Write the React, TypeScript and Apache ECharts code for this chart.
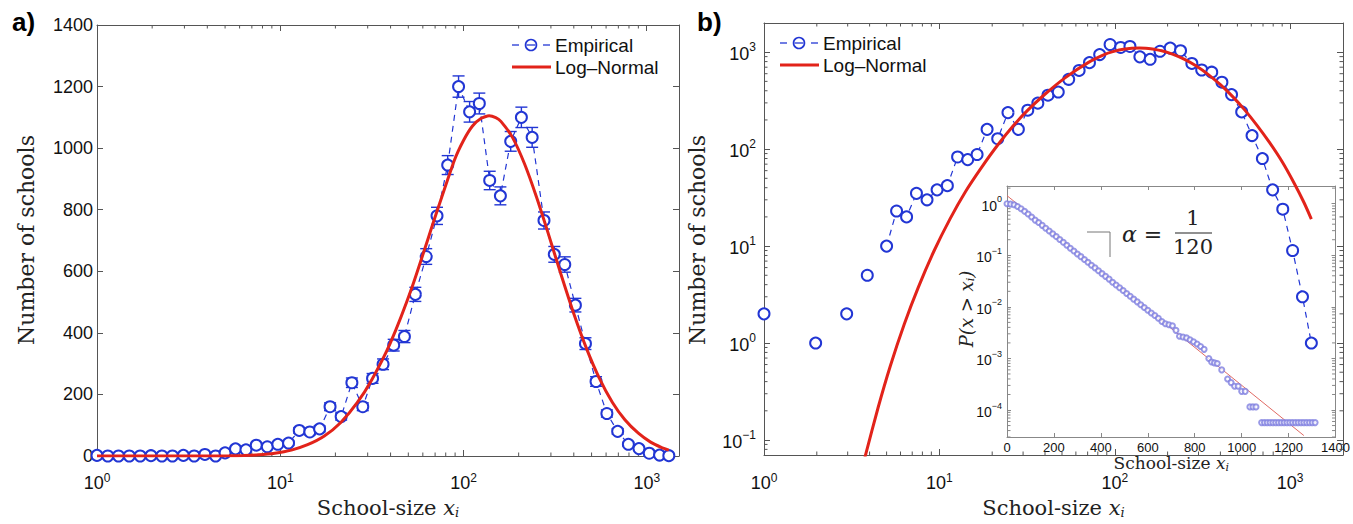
import React, { useEffect, useRef } from "react";
import * as echarts from "echarts";

// ---------- data ----------
// log-spaced school-size bins (shared by panels a and b)
const binSize = [1.0, 1.145, 1.31, 1.5, 1.72, 1.97, 2.26, 2.58, 2.96, 3.39, 3.88, 4.44,
  5.0, 5.7, 6.5, 7.4, 8.5, 9.7,
  11.1, 12.7, 14.5, 16.4, 18.7, 21.5, 24.6, 28.2, 31.9, 36.4,
  41.6, 47.6, 54.6, 62.6, 71.7, 82, 94, 108, 122, 139,
  159, 181, 207, 237, 275, 313, 357, 408, 463, 529,
  606, 694, 794, 907, 1032, 1175, 1320];
const schoolCounts = [2, 0, 0, 0, 0, 1, 0, 0, 2, 0, 5, 0,
  10, 23, 20, 35, 30, 38,
  42, 83, 78, 88, 160, 128, 238, 160, 252, 298,
  360, 388, 525, 648, 780, 945, 1200, 1118, 1145, 895,
  845, 1022, 1100, 1035, 765, 655, 622, 490, 365, 242,
  138, 80, 38, 24, 9, 3, 1];
const countErr = [1.4, 0, 0, 0, 0, 1, 0, 0, 1.4, 0, 2.2, 0,
  3.2, 4.8, 4.5, 5.9, 5.5, 6.2,
  6.5, 9.1, 8.8, 9.4, 12.6, 11.3, 15.4, 12.6, 15.9, 17.3,
  19, 19.7, 22.9, 25.5, 27.9, 30.7, 34.6, 33.4, 33.8, 29.9,
  29.1, 32, 33.2, 32.2, 27.7, 25.6, 24.9, 22.1, 19.1, 15.6,
  11.7, 8.9, 6.2, 4.9, 3, 1.7, 1];

// Log-Normal fit curve
const fitSize = [1, 2, 3, 3.4, 3.8, 4.47, 5.25, 6.31, 7.59, 9.33, 11.5, 14.1, 17.4, 21.4, 26.3, 31.6, 39.8, 52.5,
  70.8, 89.1, 100, 112, 125, 138, 150, 160, 185, 215, 250, 290, 340, 400, 470, 550, 650, 760, 900, 1050, 1200, 1320];
const fitCount = [0.0000001, 0.0001, 0.011, 0.03, 0.071, 0.215, 0.58, 1.57, 3.77, 8.95, 19.1, 36.6, 64.9, 109, 173, 248, 366, 550,
  785, 960, 1025, 1072, 1097, 1105, 1099, 1087, 1035, 950, 842, 723, 591, 462, 348, 254, 174, 118, 74, 45, 28, 19];

// inset: complementary cumulative distribution P(x > x_i)
const insetSize = [0, 15, 30, 45, 60, 75, 90, 105, 120, 135, 150, 165, 180, 195, 210, 225, 240, 255, 270, 285,
  300, 315, 330, 345, 360, 375, 390, 405, 420, 435, 450, 465, 480, 495, 510, 525, 540, 555, 570, 585,
  600, 615, 630, 645, 660, 675, 690, 705, 720, 735, 750, 765, 780, 795, 810, 825, 840,
  860, 872, 884, 896, 915, 940, 955, 970, 985, 1000, 1015, 1035, 1048, 1061,
  1085, 1097, 1109, 1121, 1133, 1145, 1157, 1169, 1181, 1193, 1205, 1217, 1229, 1241, 1253, 1265, 1277, 1289, 1301, 1313];
const insetProb = [1.0, 0.98, 0.95, 0.88, 0.80, 0.71, 0.63, 0.55, 0.48, 0.43,
  0.38, 0.335, 0.295, 0.26, 0.23, 0.202, 0.178, 0.156, 0.137, 0.121,
  0.106, 0.094, 0.083, 0.073, 0.064, 0.057, 0.050, 0.044, 0.039, 0.0345,
  0.030, 0.0265, 0.0235, 0.0207, 0.0182, 0.0160, 0.0141, 0.0125, 0.0110, 0.0097,
  0.0086, 0.0076, 0.0068, 0.0060, 0.0052, 0.0047, 0.0045, 0.0043, 0.0035, 0.0027,
  0.0026, 0.0025, 0.0023, 0.0021, 0.0019, 0.0017, 0.0015,
  0.001, 0.00085, 0.00082, 0.0008, 0.0006, 0.0004, 0.00034, 0.00029, 0.00029, 0.00023, 0.00023, 0.000115, 0.000115, 0.000115,
  0.000057, 0.000057, 0.000057, 0.000057, 0.000057, 0.000057, 0.000057, 0.000057, 0.000057, 0.000057,
  0.000057, 0.000057, 0.000057, 0.000057, 0.000057, 0.000057, 0.000057, 0.000057, 0.000057, 0.000057];
const insetFitSize = [0, 1265];
const insetFitProb = [1.43, 0.000032];

// axis ticks
const countTicks = [0, 200, 400, 600, 800, 1000, 1200, 1400];
const insetTicks = [0, 200, 400, 600, 800, 1000, 1200, 1400];
const legendNames = ["Empirical", "Log\u2013Normal"];

// ---------- styling ----------
const BLUE = "#2236d4";
const RED = "#e2231a";
const AXIS = "#555";
const INSET_AXIS = "#888";
const SANS = '"Liberation Sans", Arial, sans-serif';
const SERIF = '"DejaVu Serif", serif';

const powRich = (b: number, e: number, lh: number) => ({
  b: { fontFamily: SANS, fontSize: b, color: "#111", lineHeight: lh, verticalAlign: "bottom" },
  e: { fontFamily: SANS, fontSize: e, color: "#111", lineHeight: e, verticalAlign: "top" },
});
const powFormatter = (v: number) => {
  const l = Math.log10(v);
  const e = Math.round(l);
  if (Math.abs(l - e) > 1e-6) return "";
  return `{b|10}{e|${e < 0 ? "\u2212" + -e : e}}`;
};
const plain = (v: number) => String(v);

const nameRich = (fs: number) => {
  const lh = Math.round(fs * 1.1);
  const ss = Math.round(fs * 0.62);
  return {
    t: { fontFamily: SERIF, fontSize: fs, color: "#222", lineHeight: lh, verticalAlign: "middle" },
    x: { fontFamily: SERIF, fontStyle: "italic", fontSize: fs, color: "#222", lineHeight: lh, verticalAlign: "middle" },
    s: { fontFamily: SERIF, fontStyle: "italic", fontSize: ss, color: "#222", lineHeight: ss, verticalAlign: "bottom" },
  };
};

function minorValues(lo: number, hi: number, min: number, max: number) {
  const out: number[] = [];
  for (let e = lo; e <= hi; e++) for (let m = 2; m <= 9; m++) {
    const v = m * Math.pow(10, e);
    if (v > min && v < max) out.push(v);
  }
  return out;
}

function minorSeries(xi: number, yi: number, vals: number[], dir: "x" | "y", ref: number, color: string) {
  return {
    type: "custom",
    xAxisIndex: xi,
    yAxisIndex: yi,
    silent: true,
    clip: false,
    z: 1,
    data: vals.map((v) => (dir === "x" ? [v, ref] : [ref, v])),
    renderItem: (params: any, api: any) => {
      const cs = params.coordSys;
      const p = api.coord([api.value(0), api.value(1)]);
      const L = 3.5;
      const st = { stroke: color, lineWidth: 1 };
      if (dir === "x") {
        const x = p[0];
        return {
          type: "group",
          children: [
            { type: "line", shape: { x1: x, y1: cs.y + cs.height, x2: x, y2: cs.y + cs.height - L }, style: st },
            { type: "line", shape: { x1: x, y1: cs.y, x2: x, y2: cs.y + L }, style: st },
          ],
        };
      }
      const y = p[1];
      return {
        type: "group",
        children: [
          { type: "line", shape: { x1: cs.x, y1: y, x2: cs.x + L, y2: y }, style: st },
          { type: "line", shape: { x1: cs.x + cs.width, y1: y, x2: cs.x + cs.width - L, y2: y }, style: st },
        ],
      };
    },
  };
}

function legendGraphic(x0: number, y0: number) {
  const dash = { stroke: BLUE, lineWidth: 1.3 };
  return [
    { type: "line", shape: { x1: x0, y1: y0, x2: x0 + 7, y2: y0 }, style: dash },
    { type: "circle", shape: { cx: x0 + 19, cy: y0, r: 5.5 }, style: { stroke: BLUE, lineWidth: 1.6, fill: "#fff" } },
    { type: "line", shape: { x1: x0 + 14.5, y1: y0, x2: x0 + 23.5, y2: y0 }, style: dash },
    { type: "line", shape: { x1: x0 + 31, y1: y0, x2: x0 + 38, y2: y0 }, style: dash },
    { type: "text", x: x0 + 43, y: y0, style: { text: legendNames[0], font: `19px ${SANS}`, fill: "#111", verticalAlign: "middle" } },
    { type: "line", shape: { x1: x0, y1: y0 + 22, x2: x0 + 39, y2: y0 + 22 }, style: { stroke: RED, lineWidth: 3 } },
    { type: "text", x: x0 + 43, y: y0 + 22, style: { text: legendNames[1], font: `19px ${SANS}`, fill: "#111", verticalAlign: "middle" } },
  ];
}

export default function App() {
  const ref = useRef<HTMLDivElement>(null);
  useEffect(() => {
    if (!ref.current) return;
    const chart = echarts.init(ref.current, undefined, { renderer: "svg" });

    const aEmp = binSize.map((x, i) => [x, schoolCounts[i]]);
    const aErr = binSize.map((x, i) => [x, schoolCounts[i], countErr[i]]);
    const bEmp = binSize.map((x, i) => [x, schoolCounts[i] > 0 ? schoolCounts[i] : "-"]);
    const fit = fitSize.map((x, i) => [x, fitCount[i]]);
    const inset = insetSize.map((x, i) => [x, insetProb[i]]);
    const insetFit = insetFitSize.map((x, i) => [x, insetFitProb[i]]);

    const tick = { show: true, inside: true, length: 6, lineStyle: { color: AXIS, width: 1 } };
    const line = { show: true, onZero: false, lineStyle: { color: AXIS, width: 1 } };
    const iTick = { show: true, inside: true, length: 4, lineStyle: { color: INSET_AXIS } };
    const iLine = { show: true, onZero: false, lineStyle: { color: INSET_AXIS } };
    const noLabel = { show: false };
    const xName = "{t|School-size }{x|x}{s|i}";

    const option: any = {
      animation: false,
      backgroundColor: "#fff",
      grid: [
        { left: 97, top: 25, width: 582, height: 447 },
        { left: 764, top: 23, width: 579, height: 448 },
        { left: 1007, top: 186, width: 330, height: 251, show: true, backgroundColor: "#fff", borderWidth: 0 },
      ],
      xAxis: [
        // panel a
        {
          gridIndex: 0, type: "log", logBase: 10, min: 1, max: 1500, position: "bottom",
          axisLine: line, axisTick: tick, splitLine: { show: false },
          axisLabel: { formatter: powFormatter, rich: powRich(18, 12, 20), margin: 16 },
          name: xName, nameLocation: "middle", nameGap: 40, nameTextStyle: { rich: nameRich(21) },
        },
        { gridIndex: 0, type: "log", logBase: 10, min: 1, max: 1500, position: "top", axisLine: line, axisTick: tick, axisLabel: noLabel, splitLine: { show: false } },
        // panel b
        {
          gridIndex: 1, type: "log", logBase: 10, min: 1, max: 2000, position: "bottom",
          axisLine: line, axisTick: tick, splitLine: { show: false },
          axisLabel: { formatter: powFormatter, rich: powRich(18, 12, 20), margin: 17 },
          name: xName, nameLocation: "middle", nameGap: 41, nameTextStyle: { rich: nameRich(21) },
        },
        { gridIndex: 1, type: "log", logBase: 10, min: 1, max: 2000, position: "top", axisLine: line, axisTick: tick, axisLabel: noLabel, splitLine: { show: false } },
        // inset
        {
          gridIndex: 2, type: "value", min: insetTicks[0], max: insetTicks[insetTicks.length - 1], interval: 200, position: "bottom",
          axisLine: iLine, axisTick: iTick, splitLine: { show: false },
          axisLabel: { fontFamily: SANS, fontSize: 13, color: "#111", margin: 4, formatter: plain },
          name: xName, nameLocation: "middle", nameGap: 10, nameTextStyle: { rich: nameRich(17) },
        },
        {
          gridIndex: 2, type: "value", min: insetTicks[0], max: insetTicks[insetTicks.length - 1], interval: 200, position: "top",
          axisLine: iLine, axisTick: iTick, axisLabel: noLabel, splitLine: { show: false },
        },
      ],
      yAxis: [
        {
          gridIndex: 0, type: "value", min: countTicks[0], max: countTicks[countTicks.length - 1], interval: 200, position: "left",
          axisLine: line, axisTick: tick, splitLine: { show: false },
          axisLabel: { fontFamily: SANS, fontSize: 18, color: "#111", margin: 4, formatter: plain },
        },
        { gridIndex: 0, type: "value", min: countTicks[0], max: countTicks[countTicks.length - 1], interval: 200, position: "right", axisLine: line, axisTick: tick, axisLabel: noLabel, splitLine: { show: false } },
        {
          gridIndex: 1, type: "log", logBase: 10, min: 0.07, max: 2000, position: "left",
          axisLine: line, axisTick: tick, splitLine: { show: false },
          axisLabel: { formatter: powFormatter, rich: powRich(18, 12, 22), margin: 8 },
        },
        { gridIndex: 1, type: "log", logBase: 10, min: 0.07, max: 2000, position: "right", axisLine: line, axisTick: tick, axisLabel: noLabel, splitLine: { show: false } },
        {
          gridIndex: 2, type: "log", logBase: 10, min: 0.00003, max: 2.2, position: "left",
          axisLine: iLine, axisTick: iTick, splitLine: { show: false },
          axisLabel: { formatter: powFormatter, rich: powRich(14, 9, 18), margin: 5 },
        },
        {
          gridIndex: 2, type: "log", logBase: 10, min: 0.00003, max: 2.2, position: "right",
          axisLine: iLine, axisTick: iTick, axisLabel: noLabel, splitLine: { show: false },
        },
      ],
      series: [
        minorSeries(0, 0, minorValues(0, 3, 1, 1500), "x", 100, AXIS),
        minorSeries(2, 2, minorValues(0, 3, 1, 2000), "x", 1, AXIS),
        minorSeries(2, 2, minorValues(-2, 3, 0.07, 2000), "y", 10, AXIS),
        minorSeries(4, 4, minorValues(-5, 0, 0.00003, 2.2), "y", 500, INSET_AXIS),
        // inset
        {
          type: "line", name: "fit-ccdf", xAxisIndex: 4, yAxisIndex: 4, data: insetFit, symbol: "none",
          lineStyle: { color: "#e06a64", width: 1 }, z: 3,
        },
        {
          type: "scatter", name: "ccdf", xAxisIndex: 4, yAxisIndex: 4, data: inset, symbol: "emptyCircle", symbolSize: 5,
          itemStyle: { color: "#7f7fe0", borderColor: "#7f7fe0", borderWidth: 0.9 }, z: 4,
        },
        // panel a
        {
          type: "custom", name: "err", xAxisIndex: 0, yAxisIndex: 0, data: aErr, z: 5,
          renderItem: (params: any, api: any) => {
            const x = api.value(0), y = api.value(1), e = api.value(2);
            if (!(e > 0)) return null;
            const t = api.coord([x, y + e]);
            const b = api.coord([x, y - e]);
            const w = 6;
            const st = { stroke: BLUE, lineWidth: 1.4, fill: "none" };
            return {
              type: "group",
              children: [
                { type: "line", shape: { x1: t[0], y1: t[1], x2: b[0], y2: b[1] }, style: st },
                { type: "line", shape: { x1: t[0] - w, y1: t[1], x2: t[0] + w, y2: t[1] }, style: st },
                { type: "line", shape: { x1: b[0] - w, y1: b[1], x2: b[0] + w, y2: b[1] }, style: st },
              ],
            };
          },
        },
        {
          type: "line", name: legendNames[0], xAxisIndex: 0, yAxisIndex: 0, data: aEmp,
          symbol: "emptyCircle", symbolSize: 11,
          itemStyle: { color: BLUE, borderColor: BLUE, borderWidth: 1.6 },
          lineStyle: { color: BLUE, width: 1.2, type: [6, 5] }, z: 6,
        },
        {
          type: "line", name: legendNames[1], xAxisIndex: 0, yAxisIndex: 0, data: fit, symbol: "none", smooth: 0.2,
          lineStyle: { color: RED, width: 3 }, itemStyle: { color: RED }, z: 7,
        },
        // panel b
        {
          type: "line", name: legendNames[0] + " (log)", xAxisIndex: 2, yAxisIndex: 2, data: bEmp,
          symbol: "emptyCircle", symbolSize: 11, connectNulls: false,
          itemStyle: { color: BLUE, borderColor: BLUE, borderWidth: 1.6 },
          lineStyle: { color: BLUE, width: 1.2, type: [6, 5] }, z: 6,
        },
        {
          type: "line", name: legendNames[1] + " (log)", xAxisIndex: 2, yAxisIndex: 2, data: fit, symbol: "none", smooth: 0.2,
          lineStyle: { color: RED, width: 3 }, itemStyle: { color: RED }, z: 7,
        },
      ],
      graphic: [
        { type: "text", left: 12, top: 9, style: { text: "a)", font: `bold 26px ${SANS}`, fill: "#000" } },
        { type: "text", left: 697, top: 9, style: { text: "b)", font: `bold 26px ${SANS}`, fill: "#000" } },
        {
          type: "text", x: 26, y: 240, rotation: Math.PI / 2,
          style: { text: "Number of schools", font: `22px ${SERIF}`, fill: "#222", align: "center", verticalAlign: "middle" },
        },
        {
          type: "text", x: 697, y: 240, rotation: Math.PI / 2,
          style: { text: "Number of schools", font: `22px ${SERIF}`, fill: "#222", align: "center", verticalAlign: "middle" },
        },
        {
          type: "text", x: 966, y: 309, rotation: Math.PI / 2,
          style: {
            text: "{a|P(}{x|x}{a| > }{x|x}{s|i}{a|)}", align: "center", verticalAlign: "middle",
            rich: {
              a: { fontFamily: SERIF, fontStyle: "italic", fontSize: 18, fill: "#222", lineHeight: 20, verticalAlign: "middle" },
              x: { fontFamily: SERIF, fontStyle: "italic", fontSize: 18, fill: "#222", lineHeight: 20, verticalAlign: "middle" },
              s: { fontFamily: SERIF, fontStyle: "italic", fontSize: 11, fill: "#222", lineHeight: 11, verticalAlign: "bottom" },
            },
          },
        },
        ...legendGraphic(512, 45).map((g) => ({ ...g, z: 20 })),
        ...legendGraphic(780, 43).map((g) => ({ ...g, z: 20 })),
        { type: "polyline", shape: { points: [[1087, 232], [1110, 232], [1110, 257]] }, style: { stroke: "#777", lineWidth: 1, fill: "none" }, z: 10 },
        { type: "text", x: 1122, y: 234, style: { text: "\u03B1 =", font: `italic 22px ${SERIF}`, fill: "#222", verticalAlign: "middle" }, z: 10 },
        { type: "text", x: 1193, y: 218, style: { text: "1", font: `21px ${SERIF}`, fill: "#222", align: "center", verticalAlign: "middle" }, z: 10 },
        { type: "line", shape: { x1: 1175, y1: 233, x2: 1212, y2: 233 }, style: { stroke: "#222", lineWidth: 1.2 }, z: 10 },
        { type: "text", x: 1193, y: 247, style: { text: "120", font: `21px ${SERIF}`, fill: "#222", align: "center", verticalAlign: "middle" }, z: 10 },
      ],
    };
    chart.setOption(option);
    return () => chart.dispose();
  }, []);
  return <div ref={ref} style={{ position: "fixed", left: 0, top: 0, width: 1353, height: 524, background: "#fff" }} />;
}
